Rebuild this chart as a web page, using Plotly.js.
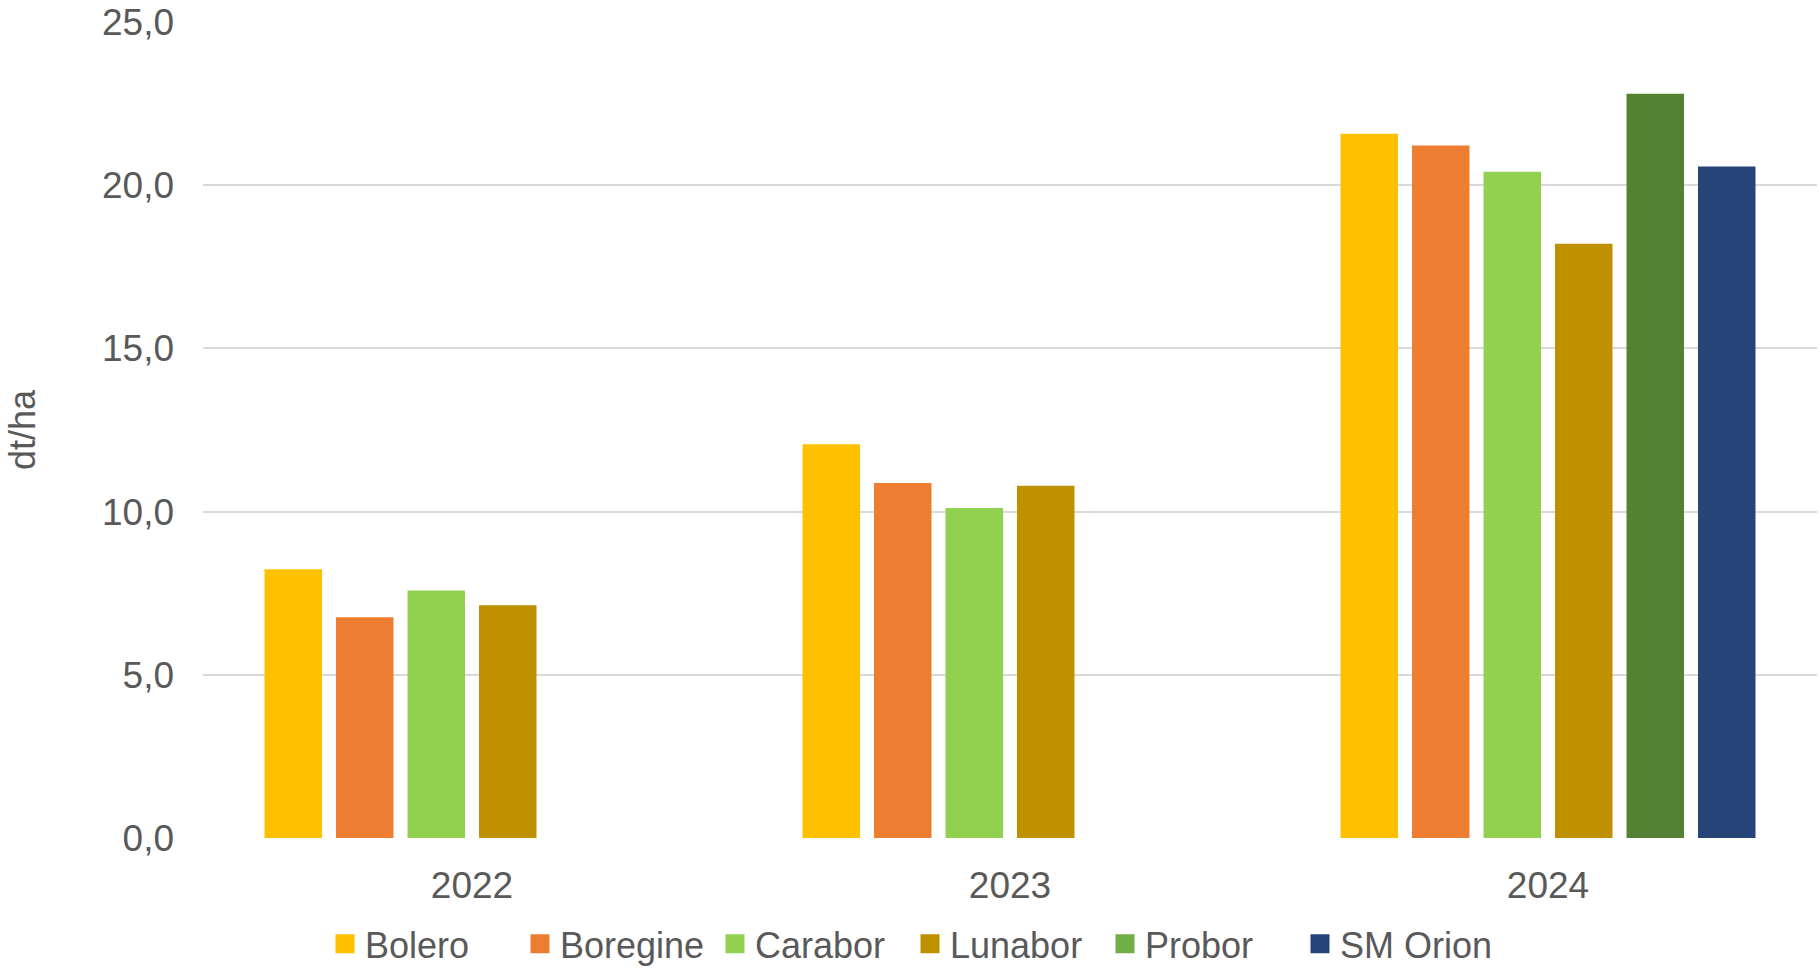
<!DOCTYPE html>
<html>
<head>
<meta charset="utf-8">
<script src="https://cdn.plot.ly/plotly-3.0.1.min.js"></script>
<style>
html,body{margin:0;padding:0;background:#fff;}
#chart{width:1820px;height:970px;}
</style>
</head>
<body>
<div id="chart"></div>
<script>
const years = ["2022", "2023", "2024"];
const bolero = [8.23, 12.06, 21.58];
const boregine = [6.76, 10.88, 21.22];
const carabor = [7.58, 10.11, 20.41];
const lunabor = [7.13, 10.79, 18.21];
const probor = [null, null, 22.80];
const smOrion = [null, null, 20.57];
const yTicks = [0, 5, 10, 15, 20, 25];
const yTickLabels = ["0,0", "5,0", "10,0", "15,0", "20,0", "25,0"];

const seriesNames = ["Bolero", "Boregine", "Carabor", "Lunabor", "Probor", "SM Orion"];
const seriesValues = [bolero, boregine, carabor, lunabor, probor, smOrion];
const barColors = ["#FFC000", "#ED7D31", "#92D050", "#BF9000", "#548235", "#264478"];
const legendColors = ["#FFC000", "#ED7D31", "#92D050", "#BF9000", "#70AD47", "#264478"];

const barTraces = seriesNames.map((name, i) => ({
  type: "bar",
  name: name,
  x: years,
  y: seriesValues[i],
  marker: { color: barColors[i], line: { width: 0 } },
  showlegend: false,
  legendgroup: name,
  hoverinfo: "x+y+name"
}));

// legend-only entries (larger square swatches like the original)
const legendTraces = seriesNames.map((name, i) => ({
  type: "scatter",
  mode: "markers",
  name: name,
  x: [years[0]],
  y: [null],
  legendgroup: name,
  marker: { symbol: "square", size: 16, color: legendColors[i], line: { width: 3, color: legendColors[i] } },
  showlegend: true,
  hoverinfo: "skip"
}));

const font = "Liberation Sans, Arial, sans-serif";
const layout = {
  width: 1820,
  height: 970,
  paper_bgcolor: "#ffffff",
  plot_bgcolor: "#ffffff",
  margin: { l: 203, r: 3, t: 22, b: 132 },
  barmode: "group",
  bargap: 0.2026,
  bargroupgap: 0.196,
  font: { family: font, color: "#595959", size: 37 },
  showlegend: true,
  legend: {
    orientation: "h",
    xref: "container",
    yref: "container",
    x: 0.5,
    xanchor: "center",
    y: 0.027,
    yanchor: "middle",
    entrywidthmode: "pixels",
    entrywidth: 150,
    font: { family: font, size: 36, color: "#595959" },
    traceorder: "normal",
    itemclick: false
  },
  xaxis: {
    type: "category",
    showgrid: false,
    zeroline: false,
    showline: false,
    ticks: "",
    ticklabelstandoff: 22,
    tickfont: { family: font, size: 37, color: "#595959" }
  },
  yaxis: {
    range: [0, 25],
    tickvals: yTicks,
    ticktext: yTickLabels,
    showgrid: true,
    gridcolor: "#D9D9D9",
    gridwidth: 2,
    zeroline: false,
    showline: false,
    ticks: "",
    ticklabelstandoff: 28,
    tickfont: { family: font, size: 37, color: "#595959" },
    title: { text: "dt/ha", standoff: 55, font: { family: font, size: 36, color: "#595959" } }
  }
};

Plotly.newPlot("chart", barTraces.concat(legendTraces), layout, { displayModeBar: false, staticPlot: true });
</script>
</body>
</html>
